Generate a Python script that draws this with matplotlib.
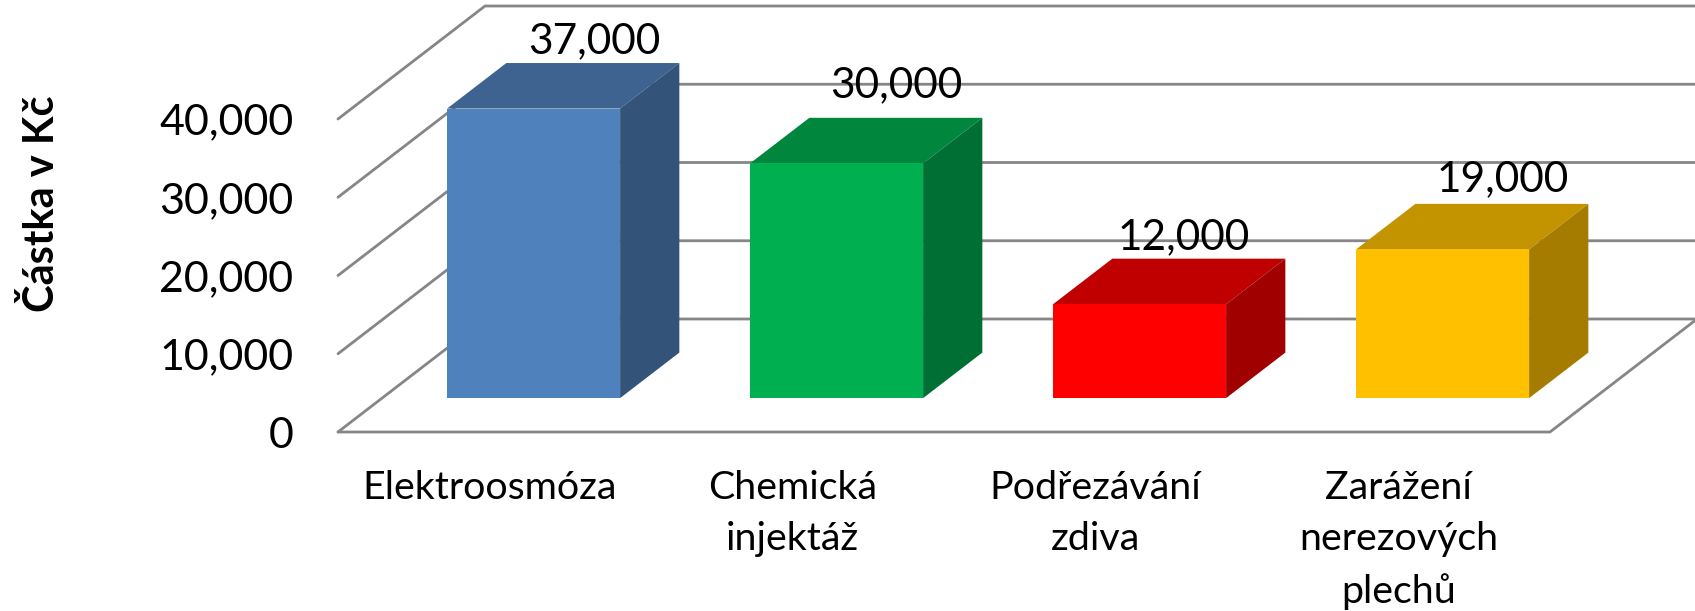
import matplotlib
matplotlib.use("Agg")
import matplotlib.pyplot as plt
from matplotlib.patches import Polygon

categories = ["Elektroosmóza", "Chemická\ninjektáž", "Podřezávání\nzdiva", "Zarážení\nnerezových\nplechů"]
values = [37000, 30000, 12000, 19000]
y_ticks = [0, 10000, 20000, 30000, 40000]
y_title = "Částka v Kč"
front_colors = ["#4F81BD", "#00B050", "#FF0000", "#FFC000"]
top_colors = ["#3F6390", "#00863D", "#C00000", "#C49400"]
side_colors = ["#335379", "#006F33", "#A10000", "#A67C00"]
label_nudges = [(1.6, 16), (0.8, 24), (-10.5, 15.5), (0.8, 18)]
GRID = "#868686"

W, H = 1695, 611
plt.rcParams["font.family"] = ["Lato", "DejaVu Sans"]
fig = plt.figure(figsize=(W / 100, H / 100), dpi=100)
L, R, Y0, Y40 = 338, 1550, 432, 119
ax = fig.add_axes([L / W, 1 - Y0 / H, (R - L) / W, (Y0 - Y40) / H])
ax.set_xlim(-0.5, 3.5)
ax.set_ylim(0, 40000)

unit_x = (R - L) / 4
unit_y = (Y0 - Y40) / 40000
DX = 147 / unit_x      # full depth of the oblique floor, in category units
DY = 113 / unit_y      # and in value units
front_d, back_d = 0.30, 0.703
bar_w = 173 / unit_x


def proj(x, y, d):
    return x + d * DX, y + d * DY


# walls and floor
line = dict(color=GRID, lw=2.0, clip_on=False, zorder=1, solid_capstyle="round")
for v in y_ticks:
    a, b, c = proj(-0.5, v, 0), proj(-0.5, v, 1), proj(3.5, v, 1)
    ax.plot([a[0], b[0], c[0]], [a[1], b[1], c[1]], **line)
a, b = proj(-0.5, 0, 0), proj(3.5, 0, 0)
c = proj(3.5, 0, 1)
ax.plot([a[0], b[0], c[0]], [a[1], b[1], c[1]], **line)

# bars
for i, (val, fc, tc, sc) in enumerate(zip(values, front_colors, top_colors, side_colors)):
    x0, x1 = i - bar_w / 2, i + bar_w / 2
    fx, fy = proj(i, 0, front_d)
    ax.bar(fx, val, bar_w, bottom=fy, color=fc, clip_on=False, zorder=4)
    top = [proj(x0, val, front_d), proj(x1, val, front_d), proj(x1, val, back_d), proj(x0, val, back_d)]
    side = [proj(x1, 0, front_d), proj(x1, val, front_d), proj(x1, val, back_d), proj(x1, 0, back_d)]
    ax.add_patch(Polygon(top, closed=True, fc=tc, ec="none", clip_on=False, zorder=3))
    ax.add_patch(Polygon(side, closed=True, fc=sc, ec="none", clip_on=False, zorder=3))
    lx, ly = proj(i, val, 0.70)
    ax.annotate(f"{val:,}", (lx, ly), xytext=label_nudges[i], textcoords="offset points",
                ha="center", va="center", fontsize=30.5, color="black", zorder=5,
                annotation_clip=False)

# axes
for s in ax.spines.values():
    s.set_visible(False)
ax.set_yticks(y_ticks, [f"{v:,}" for v in y_ticks])
ax.set_xticks(range(len(categories)), categories)
ax.tick_params(axis="y", length=0, pad=32, labelsize=31)
ax.tick_params(axis="x", length=0, pad=27.5, labelsize=28.4)
for t in ax.get_xticklabels():
    t.set_linespacing(1.52)
lab = ax.set_ylabel(y_title, fontsize=30, fontweight="bold", color="black")
lab.set_va("center")
lab.set_ha("center")
ax.yaxis.set_label_coords((42 - L) / (R - L), (Y0 - 204) / (Y0 - Y40))

fig.savefig("out.png", dpi=100)
